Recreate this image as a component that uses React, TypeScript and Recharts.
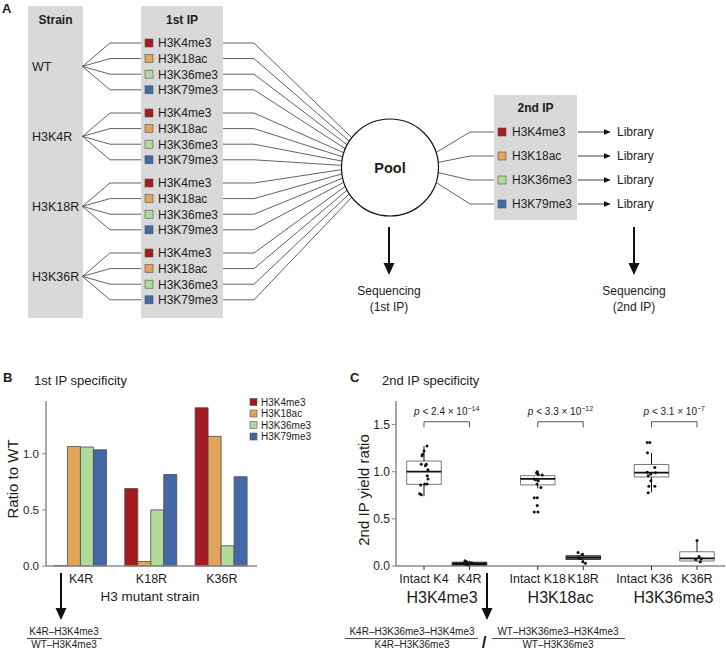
import React from "react";
import {
  BarChart,
  Bar,
  XAxis,
  YAxis,
  ComposedChart,
  Scatter,
  ReferenceArea,
  ReferenceLine,
} from "recharts";

// ─── Data ─────────────────────────────────────────────────────────────────────

const strains = ["WT", "H3K4R", "H3K18R", "H3K36R"];
const marks = ["H3K4me3", "H3K18ac", "H3K36me3", "H3K79me3"];
const markColors = ["#a31b20", "#e1a45c", "#b2da9a", "#4468a8"];

// B: 1st IP specificity (ratio to WT)
const mutants = ["K4R", "K18R", "K36R"];
const ratioK4me3 = [0.005, 0.69, 1.41];
const ratioK18ac = [1.065, 0.04, 1.155];
const ratioK36me3 = [1.06, 0.5, 0.18];
const ratioK79me3 = [1.035, 0.815, 0.795];
const ratioTicks = [0, 0.5, 1.0];

// C: 2nd IP specificity (box plots)
const boxLabels = ["Intact K4", "K4R", "Intact K18", "K18R", "Intact K36", "K36R"];
const boxPos = [1, 2, 3.5, 4.5, 6, 7];
const boxLow = [0.74, 0.0, 0.825, 0.03, 0.78, 0.045];
const boxQ1 = [0.866, 0.005, 0.86, 0.07, 0.944, 0.053];
const boxMed = [1.0, 0.02, 0.923, 0.088, 0.99, 0.081];
const boxQ3 = [1.113, 0.04, 0.958, 0.109, 1.077, 0.151];
const boxHigh = [1.27, 0.055, 1.0, 0.14, 1.2, 0.27];
const yieldTicks = [0, 0.5, 1.0, 1.5];

// points: [x jitter, value]
const ptsIntactK4 = [
  [0.066, 1.274], [0, 1.22], [-0.029, 1.186], [-0.044, 1.168], [-0.059, 1.08],
  [0.051, 1.08], [0.029, 1.063], [0.088, 1.02], [0.073, 0.958], [0.088, 0.923],
  [0.066, 0.87], [-0.073, 0.86], [0.015, 0.87], [-0.095, 0.765], [-0.059, 0.755],
];
const ptsK4R = [
  [-0.099, 0.056], [-0.062, 0.045], [-0.136, 0.03], [-0.026, 0.03],
  [0.011, 0.025], [-0.084, 0.02], [0.048, 0.035], [-0.04, 0.015],
];
const ptsIntactK18 = [
  [-0.011, 1.0], [-0.026, 0.986], [0.011, 0.972], [0.099, 0.965], [-0.077, 0.923],
  [-0.048, 0.916], [0.011, 0.905], [-0.018, 0.87], [0.07, 0.832], [-0.077, 0.723],
  [-0.011, 0.723], [-0.011, 0.642], [-0.077, 0.572], [0.004, 0.572],
];
const ptsK18R = [
  [-0.114, 0.144], [-0.026, 0.123], [-0.099, 0.09], [-0.062, 0.08],
  [-0.011, 0.045], [0.048, 0.028],
];
const ptsIntactK36 = [
  [-0.095, 1.31], [-0.037, 1.31], [-0.088, 1.2], [0.073, 1.045], [-0.095, 0.993],
  [-0.015, 0.976], [-0.073, 0.958], [0.088, 0.99], [-0.015, 0.905], [-0.059, 0.845],
  [0.073, 0.845], [-0.073, 0.776],
];
const ptsK36R = [
  [0, 0.27], [0.044, 0.102], [0.095, 0.078], [-0.029, 0.07], [0.073, 0.045],
];
const boxPoints = [ptsIntactK4, ptsK4R, ptsIntactK18, ptsK18R, ptsIntactK36, ptsK36R];

const groupNames = ["H3K4me3", "H3K18ac", "H3K36me3"];
const pairs = [[1, 2], [3.5, 4.5], [6, 7]];
const pMantissa = ["2.4", "3.3", "3.1"];
const pExponent = ["\u221214", "\u221212", "\u22127"];
const bracketTop = 1.53;
const bracketFoot = 1.47;

// ─── Derived tables ───────────────────────────────────────────────────────────

const barData = mutants.map((m, i) => ({
  strain: m,
  H3K4me3: ratioK4me3[i],
  H3K18ac: ratioK18ac[i],
  H3K36me3: ratioK36me3[i],
  H3K79me3: ratioK79me3[i],
}));

const scatterData = boxPoints.flatMap((pts, i) =>
  pts.map(([dx, v]) => ({ x: boxPos[i] + dx, y: v }))
);

// ─── Styles ───────────────────────────────────────────────────────────────────

const FONT = "'Liberation Sans', Arial, Helvetica, sans-serif";
const TXT = "#1c1c1c";
const AXIS = "#8a8a8a";
const PANEL_BG = "#d9d9d9";
const LINE = "#3a3a3a";
const boxFill = ["none", "#1e1e1e", "none", "#7f7f7f", "none", "none"];
const boxHalf = 0.38;
const tickNudge = [0, 0, 0, 0, -7, 0];

// ─── Panel A diagram ──────────────────────────────────────────────────────────

const rowY = (g: number, r: number) => 43 + g * 70 + r * 15.6;
const POOL = { cx: 390, cy: 167.5, r: 48.5 };
const ip2Y = [132, 156, 180, 204];

function DownArrow({ x, y1, y2 }: { x: number; y1: number; y2: number }) {
  return (
    <g>
      <line x1={x} y1={y1} x2={x} y2={y2 - 10} stroke="#111" strokeWidth={2} />
      <polygon points={`${x - 5.5},${y2 - 12} ${x + 5.5},${y2 - 12} ${x},${y2}`} fill="#111" />
    </g>
  );
}

function PanelA() {
  const rows: { g: number; r: number; y: number }[] = [];
  strains.forEach((_, g) => marks.forEach((__, r) => rows.push({ g, r, y: rowY(g, r) })));
  return (
    <g fontFamily={FONT} fill={TXT}>
      <text x={2} y={13} fontSize={13} fontWeight="bold">A</text>

      <rect x={28} y={6} width={55} height={312} fill={PANEL_BG} />
      <rect x={141} y={6} width={82} height={312} fill={PANEL_BG} />
      <text x={55.5} y={24} fontSize={12} fontWeight="bold" textAnchor="middle">Strain</text>
      <text x={182} y={24} fontSize={12} fontWeight="bold" textAnchor="middle">1st IP</text>

      {strains.map((s, g) => {
        const mid = (rowY(g, 0) + rowY(g, 3)) / 2;
        return (
          <g key={s}>
            <text x={32} y={mid + 4.5} fontSize={12.5}>{s}</text>
            {marks.map((_, r) => (
              <polyline
                key={r}
                points={`${82.5},${mid} 110,${rowY(g, r)} 141,${rowY(g, r)}`}
                fill="none"
                stroke={LINE}
                strokeWidth={0.8}
              />
            ))}
          </g>
        );
      })}

      {rows.map(({ g, r, y }, i) => {
        const a = ((218 - (i * 76) / 15) * Math.PI) / 180;
        const ex = POOL.cx + POOL.r * Math.cos(a);
        const ey = POOL.cy + POOL.r * Math.sin(a);
        return (
          <g key={`${g}-${r}`}>
            <rect x={145} y={y - 4} width={8} height={8} fill={markColors[r]} stroke="#555" strokeWidth={0.6} />
            <text x={158} y={y + 4.3} fontSize={12}>{marks[r]}</text>
            <polyline points={`223,${y} 254,${y} ${ex},${ey}`} fill="none" stroke={LINE} strokeWidth={0.8} />
          </g>
        );
      })}

      <circle cx={POOL.cx} cy={POOL.cy} r={POOL.r} fill="#fff" stroke="#111" strokeWidth={1.2} />
      <text x={POOL.cx} y={POOL.cy + 5} fontSize={14.5} fontWeight="bold" textAnchor="middle">Pool</text>

      <rect x={494} y={95} width={83} height={125} fill={PANEL_BG} />
      <text x={535.5} y={112} fontSize={12} fontWeight="bold" textAnchor="middle">2nd IP</text>
      {ip2Y.map((y, r) => {
        const a = ((-18 + r * 12) * Math.PI) / 180;
        const ex = POOL.cx + POOL.r * Math.cos(a);
        const ey = POOL.cy + POOL.r * Math.sin(a);
        return (
          <g key={r}>
            <polyline points={`${ex},${ey} 470,${y} 494,${y}`} fill="none" stroke={LINE} strokeWidth={0.8} />
            <rect x={498} y={y - 4} width={8} height={8} fill={markColors[r]} stroke="#555" strokeWidth={0.6} />
            <text x={512} y={y + 4.3} fontSize={12}>{marks[r]}</text>
            <line x1={578} y1={y} x2={605} y2={y} stroke="#111" strokeWidth={0.8} />
            <polygon points={`604,${y - 2.8} 611,${y} 604,${y + 2.8}`} fill="#111" />
            <text x={617} y={y + 4.3} fontSize={12}>Library</text>
          </g>
        );
      })}

      <DownArrow x={389} y1={227} y2={275} />
      <DownArrow x={634} y1={227} y2={275} />
      <text x={389} y={295} fontSize={12} textAnchor="middle">Sequencing</text>
      <text x={389} y={311} fontSize={12} textAnchor="middle">(1st IP)</text>
      <text x={634} y={295} fontSize={12} textAnchor="middle">Sequencing</text>
      <text x={634} y={311} fontSize={12} textAnchor="middle">(2nd IP)</text>
    </g>
  );
}

// ─── Overlay text for B and C ─────────────────────────────────────────────────

function Fraction({ cx, num, den, x1, x2 }: { cx: number; num: string; den: string; x1: number; x2: number }) {
  return (
    <g>
      <text x={cx} y={635} fontSize={10} textAnchor="middle">{num}</text>
      <line x1={x1} y1={638.5} x2={x2} y2={638.5} stroke="#222" strokeWidth={0.8} />
      <text x={cx} y={648} fontSize={10} textAnchor="middle">{den}</text>
    </g>
  );
}

function PanelText() {
  return (
    <g fontFamily={FONT} fill={TXT}>
      {/* B */}
      <text x={3} y={382} fontSize={13} fontWeight="bold">B</text>
      <text x={34} y={385} fontSize={13}>1st IP specificity</text>
      <text transform="translate(18,479) rotate(-90)" fontSize={15} textAnchor="middle">Ratio to WT</text>
      <text x={150} y={601} fontSize={13.5} textAnchor="middle">H3 mutant strain</text>
      {marks.map((m, i) => (
        <g key={m}>
          <rect x={250} y={398.5 + i * 11.5} width={7} height={7} fill={markColors[i]} stroke="#555" strokeWidth={0.6} />
          <text x={261} y={405.5 + i * 11.5} fontSize={10}>{m}</text>
        </g>
      ))}
      <DownArrow x={61} y1={573} y2={620} />
      <Fraction cx={64} num="K4R–H3K4me3" den="WT–H3K4me3" x1={27} x2={102} />

      {/* C */}
      <text x={350} y={382} fontSize={13} fontWeight="bold">C</text>
      <text x={382} y={385} fontSize={13}>2nd IP specificity</text>
      <text transform="translate(369,490) rotate(-90)" fontSize={15} textAnchor="middle">2nd IP yield ratio</text>
      {groupNames.map((g, i) => (
        <text key={g} x={[442, 560.5, 673.5][i]} y={603} fontSize={16} textAnchor="middle">{g}</text>
      ))}
      <DownArrow x={487} y1={573} y2={620} />
      <Fraction cx={412} num="K4R–H3K36me3–H3K4me3" den="K4R–H3K36me3" x1={345} x2={478} />
      <text x={484} y={648} fontSize={17} fontWeight="bold" textAnchor="middle">/</text>
      <Fraction cx={558} num="WT–H3K36me3–H3K4me3" den="WT–H3K36me3" x1={492} x2={625} />
    </g>
  );
}

// ─── Chart pieces ─────────────────────────────────────────────────────────────

function BoxTick({ x, y, payload }: any) {
  const i = boxPos.indexOf(payload.value);
  return (
    <text x={x + (tickNudge[i] ?? 0)} y={y} dy={9} textAnchor="middle" fontSize={12.5} fill={TXT}>
      {boxLabels[i]}
    </text>
  );
}

function PValue({ viewBox, mant, exp }: any) {
  const vb = viewBox ?? {};
  const cx = (vb.x ?? 0) + (vb.width ?? 0) / 2;
  const y = (vb.y ?? 0) - 7;
  return (
    <text x={cx} y={y} textAnchor="middle" fontSize={10} fill={TXT} fontFamily={FONT}>
      <tspan fontStyle="italic">p</tspan>
      <tspan>{` < ${mant} × 10`}</tspan>
      <tspan dy={-4} fontSize={7}>{exp}</tspan>
    </text>
  );
}

const Dot = (props: any) => <circle cx={props.cx} cy={props.cy} r={1.5} fill="#111" />;

// ─── App ──────────────────────────────────────────────────────────────────────

export default function App() {
  return (
    <div style={{ position: "relative", width: 726, height: 653, background: "#fff", fontFamily: FONT }}>
      <style>{`body{margin:0}`}</style>

      {/* B: bar chart */}
      <div style={{ position: "absolute", left: 0, top: 390 }}>
        <BarChart
          width={300}
          height={200}
          data={barData}
          margin={{ top: 11, right: 43, bottom: 0, left: 16 }}
          barCategoryGap="12%"
          barGap={0}
        >
          <XAxis
            dataKey="strain"
            axisLine={{ stroke: AXIS, strokeWidth: 1.5 }}
            tickLine={false}
            tickSize={6}
            tickMargin={2}
            height={24}
            tick={{ fontSize: 12.5, fill: TXT }}
          />
          <YAxis
            width={30}
            domain={[0, 1.47]}
            ticks={ratioTicks}
            tickFormatter={(v: number) => v.toFixed(1)}
            axisLine={{ stroke: AXIS, strokeWidth: 1.5 }}
            tickLine={{ stroke: AXIS }}
            tickSize={4}
            tickMargin={3}
            tick={{ fontSize: 11.5, fill: TXT }}
          />
          {marks.map((m, i) => (
            <Bar
              key={m}
              dataKey={m}
              fill={markColors[i]}
              stroke="#4a4a4a"
              strokeWidth={0.8}
              isAnimationActive={false}
            />
          ))}
        </BarChart>
      </div>

      {/* C: box plots */}
      <div style={{ position: "absolute", left: 340, top: 390 }}>
        <ComposedChart width={386} height={200} margin={{ top: 11, right: 1, bottom: 0, left: 16 }}>
          <XAxis
            type="number"
            dataKey="x"
            domain={[0.385, 7.615]}
            ticks={boxPos}
            interval={0}
            allowDataOverflow
            axisLine={{ stroke: AXIS, strokeWidth: 1.5 }}
            tickLine={{ stroke: "#333" }}
            tickSize={4}
            tickMargin={4}
            height={24}
            tick={<BoxTick />}
          />
          <YAxis
            type="number"
            dataKey="y"
            width={40}
            domain={[0, 1.75]}
            ticks={yieldTicks}
            tickFormatter={(v: number) => v.toFixed(1)}
            axisLine={{ stroke: AXIS, strokeWidth: 1.5 }}
            tickLine={{ stroke: AXIS }}
            tickSize={4}
            tickMargin={2}
            tick={{ fontSize: 12, fill: TXT }}
          />

          {boxPos.map((p, i) => (
            <ReferenceArea
              key={`box-${i}`}
              x1={p - boxHalf}
              x2={p + boxHalf}
              y1={boxQ1[i]}
              y2={boxQ3[i]}
              fill={boxFill[i]}
              fillOpacity={1}
              stroke={i === 1 || i === 3 ? "#333" : "#777"}
              strokeWidth={1}
            />
          ))}
          {boxPos.map((p, i) => (
            <ReferenceLine
              key={`wh-${i}`}
              segment={[{ x: p, y: boxQ3[i] }, { x: p, y: boxHigh[i] }]}
              stroke="#111"
              strokeWidth={1}
            />
          ))}
          {boxPos.map((p, i) => (
            <ReferenceLine
              key={`wl-${i}`}
              segment={[{ x: p, y: boxLow[i] }, { x: p, y: boxQ1[i] }]}
              stroke="#111"
              strokeWidth={1}
            />
          ))}
          {boxPos.map((p, i) => (
            <ReferenceLine
              key={`med-${i}`}
              segment={[{ x: p - boxHalf, y: boxMed[i] }, { x: p + boxHalf, y: boxMed[i] }]}
              stroke="#111"
              strokeWidth={1.8}
            />
          ))}

          {pairs.map(([a, b], i) => (
            <ReferenceLine
              key={`br-${i}`}
              segment={[{ x: a, y: bracketTop }, { x: b, y: bracketTop }]}
              stroke="#444"
              strokeWidth={0.9}
              label={<PValue mant={pMantissa[i]} exp={pExponent[i]} />}
            />
          ))}
          {pairs.flatMap(([a, b], i) =>
            [a, b].map((p, j) => (
              <ReferenceLine
                key={`bf-${i}-${j}`}
                segment={[{ x: p, y: bracketTop }, { x: p, y: bracketFoot }]}
                stroke="#444"
                strokeWidth={0.9}
              />
            ))
          )}

          <Scatter data={scatterData} shape={<Dot />} isAnimationActive={false} />
        </ComposedChart>
      </div>

      <svg
        width={726}
        height={653}
        style={{ position: "absolute", left: 0, top: 0, pointerEvents: "none" }}
      >
        <PanelA />
        <PanelText />
      </svg>
    </div>
  );
}
